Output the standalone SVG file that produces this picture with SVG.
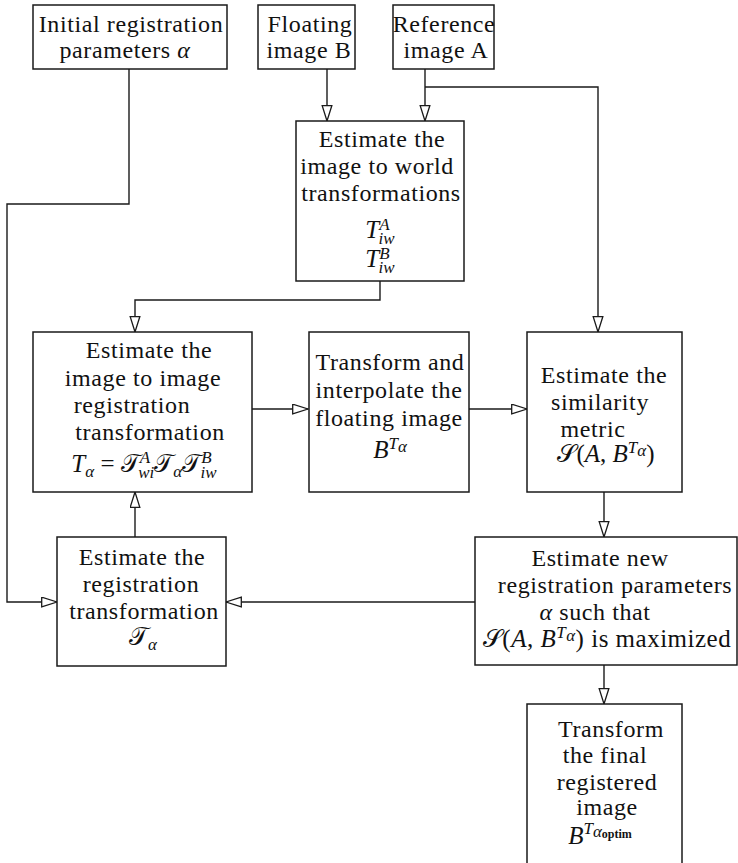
<svg xmlns="http://www.w3.org/2000/svg" width="738" height="863" viewBox="0 0 738 863">
<style>
.box{fill:#fff;stroke:#1a1a1a;stroke-width:1.5}
.t{font-family:"Liberation Serif","DejaVu Serif",serif;font-size:24px;letter-spacing:0.6px;text-anchor:middle;fill:#111}
.m{font-family:"Liberation Serif","DejaVu Serif",serif;font-size:25px;text-anchor:middle;fill:#111}
.i{font-style:italic}
.s{font-size:17px;font-style:italic}
.ss{font-size:12px;font-weight:bold;font-style:normal}
.cal{font-family:"DejaVu Sans","Noto Sans",serif;font-style:normal}
.ln{fill:none;stroke:#1a1a1a;stroke-width:1.4}
</style>
<defs>
<marker id="ah" markerUnits="userSpaceOnUse" markerWidth="18" markerHeight="12" refX="16" refY="5.5" orient="auto">
<path d="M0.7,0.7 L16,5.5 L0.7,10.3 Z" fill="#fff" stroke="#1a1a1a" stroke-width="1.3"/>
</marker>
</defs>
<rect width="738" height="863" fill="#fff"/>
<g id="connectors">
<polyline class="ln" points="129,69 129,204 7,204 7,602 57,602" marker-end="url(#ah)"/>
<line class="ln" x1="327" y1="69" x2="327" y2="121" marker-end="url(#ah)"/>
<line class="ln" x1="425" y1="69" x2="425" y2="121" marker-end="url(#ah)"/>
<polyline class="ln" points="425,87 598,87 598,332" marker-end="url(#ah)"/>
<polyline class="ln" points="380,281 380,300 135,300 135,332" marker-end="url(#ah)"/>
<line class="ln" x1="252" y1="409" x2="308" y2="409" marker-end="url(#ah)"/>
<line class="ln" x1="469" y1="409" x2="527" y2="409" marker-end="url(#ah)"/>
<line class="ln" x1="604" y1="492" x2="604" y2="537" marker-end="url(#ah)"/>
<line class="ln" x1="475" y1="602" x2="226" y2="602" marker-end="url(#ah)"/>
<line class="ln" x1="135" y1="537" x2="135" y2="492" marker-end="url(#ah)"/>
<line class="ln" x1="604" y1="665" x2="604" y2="704" marker-end="url(#ah)"/>
</g>
<g id="n-initial">
<rect class="box" x="33" y="5" width="194" height="64"/>
<text class="t" x="131" y="32">Initial registration</text>
<text class="t" x="125" y="58">parameters <tspan class="i">α</tspan></text>
</g>
<g id="n-floating">
<rect class="box" x="258" y="5" width="97" height="64"/>
<text class="t" x="310" y="32">Floating</text>
<text class="t" x="309" y="58">image B</text>
</g>
<g id="n-reference">
<rect class="box" x="393" y="5" width="101" height="64"/>
<text class="t" x="444" y="32">Reference</text>
<text class="t" x="446" y="58">image A</text>
</g>
<g id="n-iw">
<rect class="box" x="296" y="121" width="168" height="160"/>
<text class="t" x="382" y="147">Estimate the</text>
<text class="t" x="377" y="174">image to world</text>
<text class="t" x="381" y="201">transformations</text>
<text class="m" x="380" y="238"><tspan class="i">T</tspan><tspan class="s" dy="-8">A</tspan><tspan class="s" dx="-11" dy="14">iw</tspan></text>
<text class="m" x="380" y="267"><tspan class="i">T</tspan><tspan class="s" dy="-8">B</tspan><tspan class="s" dx="-11" dy="14">iw</tspan></text>
</g>
<g id="n-i2i">
<rect class="box" x="33" y="332" width="219" height="160"/>
<text class="t" x="149" y="358">Estimate the</text>
<text class="t" x="143" y="386">image to image</text>
<text class="t" x="132" y="413">registration</text>
<text class="t" x="150" y="440">transformation</text>
<text class="m" x="144" y="472"><tspan class="i">T</tspan><tspan class="s" dy="5">α</tspan><tspan dy="-5"> = </tspan><tspan class="cal">𝒯</tspan><tspan class="s" dy="-9">A</tspan><tspan class="s" dx="-11" dy="15">wi</tspan><tspan class="cal" dy="-6">𝒯</tspan><tspan class="s" dy="5">α</tspan><tspan class="cal" dy="-5">𝒯</tspan><tspan class="s" dy="-9">B</tspan><tspan class="s" dx="-11" dy="15">iw</tspan></text>
</g>
<g id="n-transform">
<rect class="box" x="309" y="332" width="160" height="160"/>
<text class="t" x="390" y="370">Transform and</text>
<text class="t" x="389" y="398">interpolate the</text>
<text class="t" x="389" y="426">floating image</text>
<text class="m" x="390" y="458"><tspan class="i">B</tspan><tspan class="s" dy="-9">T</tspan><tspan class="s" font-size="12" dy="3">α</tspan></text>
</g>
<g id="n-sim">
<rect class="box" x="527" y="332" width="155" height="160"/>
<text class="t" x="604" y="383">Estimate the</text>
<text class="t" x="600" y="410">similarity</text>
<text class="t" x="593" y="437">metric</text>
<text class="m" x="606" y="462"><tspan class="cal">𝒮</tspan>(<tspan class="i">A</tspan>, <tspan class="i">B</tspan><tspan class="s" dy="-9">T</tspan><tspan class="s" font-size="12" dy="3">α</tspan><tspan dy="6">)</tspan></text>
</g>
<g id="n-new">
<rect class="box" x="475" y="537" width="262" height="128"/>
<text class="t" x="600" y="566">Estimate new</text>
<text class="t" x="615" y="593">registration parameters</text>
<text class="t" x="595" y="620"><tspan class="i">α</tspan> such that</text>
<text class="m" x="607" y="647" font-size="24" letter-spacing="0.5"><tspan class="cal">𝒮</tspan>(<tspan class="i">A</tspan>, <tspan class="i">B</tspan><tspan class="s" dy="-9">T</tspan><tspan class="s" font-size="12" dy="3">α</tspan><tspan dy="6">) is maximized</tspan></text>
</g>
<g id="n-reg">
<rect class="box" x="57" y="537" width="169" height="129"/>
<text class="t" x="142" y="565">Estimate the</text>
<text class="t" x="141" y="592">registration</text>
<text class="t" x="144" y="619">transformation</text>
<text class="m" x="143" y="645"><tspan class="cal">𝒯</tspan><tspan class="s" dy="5">α</tspan></text>
</g>
<g id="n-final">
<rect class="box" x="527" y="704" width="155" height="170"/>
<text class="t" x="611" y="737">Transform</text>
<text class="t" x="605" y="763">the final</text>
<text class="t" x="607" y="790">registered</text>
<text class="t" x="607" y="815">image</text>
<text class="m" x="600" y="844"><tspan class="i">B</tspan><tspan class="s" dy="-10">T</tspan><tspan class="s" font-size="13" dy="3">α</tspan><tspan class="ss" font-size="13" dy="1">optim</tspan></text>
</g>
</svg>
